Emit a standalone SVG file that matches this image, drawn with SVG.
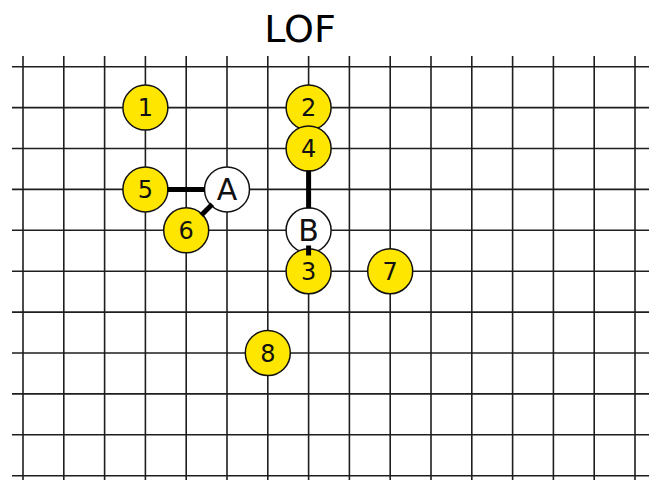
<svg xmlns="http://www.w3.org/2000/svg" width="649" height="480" viewBox="0 0 649 480">
  <style>
    .grid line { stroke: #1e1e1e; stroke-width: 1.6; }
    .edge { stroke: #000; stroke-width: 5; stroke-linecap: square; }
    .node circle { stroke: #111; stroke-width: 1.5; }
    .stone circle { fill: #ffe600; }
    .hub circle { fill: #ffffff; }
    .node text { font-family: "DejaVu Sans", sans-serif; fill: #111; text-anchor: middle; }
    .stone text { font-size: 24px; }
    .hub text { font-size: 30px; }
    .title { font-family: "DejaVu Sans", sans-serif; font-size: 38px; fill: #000; text-anchor: middle; }
  </style>

  <rect width="649" height="480" fill="#ffffff"/>

  <text class="title" x="300" y="42">LOF</text>

  <!-- board grid: 16 columns, 11 rows -->
  <g class="grid">
    <line x1="23" y1="56" x2="23" y2="480"/>
    <line x1="63.8" y1="56" x2="63.8" y2="480"/>
    <line x1="104.6" y1="56" x2="104.6" y2="480"/>
    <line x1="145.4" y1="56" x2="145.4" y2="480"/>
    <line x1="186.2" y1="56" x2="186.2" y2="480"/>
    <line x1="227" y1="56" x2="227" y2="480"/>
    <line x1="267.8" y1="56" x2="267.8" y2="480"/>
    <line x1="308.6" y1="56" x2="308.6" y2="480"/>
    <line x1="349.4" y1="56" x2="349.4" y2="480"/>
    <line x1="390.2" y1="56" x2="390.2" y2="480"/>
    <line x1="431" y1="56" x2="431" y2="480"/>
    <line x1="471.8" y1="56" x2="471.8" y2="480"/>
    <line x1="512.6" y1="56" x2="512.6" y2="480"/>
    <line x1="553.4" y1="56" x2="553.4" y2="480"/>
    <line x1="594.2" y1="56" x2="594.2" y2="480"/>
    <line x1="635" y1="56" x2="635" y2="480"/>

    <line x1="12" y1="66.7" x2="649" y2="66.7"/>
    <line x1="12" y1="107.6" x2="649" y2="107.6"/>
    <line x1="12" y1="148.5" x2="649" y2="148.5"/>
    <line x1="12" y1="189.4" x2="649" y2="189.4"/>
    <line x1="12" y1="230.3" x2="649" y2="230.3"/>
    <line x1="12" y1="271.2" x2="649" y2="271.2"/>
    <line x1="12" y1="312.1" x2="649" y2="312.1"/>
    <line x1="12" y1="353" x2="649" y2="353"/>
    <line x1="12" y1="393.9" x2="649" y2="393.9"/>
    <line x1="12" y1="434.8" x2="649" y2="434.8"/>
    <line x1="12" y1="475.7" x2="649" y2="475.7"/>
  </g>

  <g id="n1" class="node stone"><circle cx="145.4" cy="107.6" r="22.5"/><text x="145.4" y="116.3">1</text></g>
  <g id="n2" class="node stone"><circle cx="308.6" cy="107.6" r="22.5"/><text x="308.6" y="116.3">2</text></g>
  <g id="n4" class="node stone"><circle cx="308.6" cy="148.5" r="22.5"/><text x="308.6" y="157.2">4</text></g>
  <g id="n5" class="node stone"><circle cx="145.4" cy="189.4" r="22.5"/><text x="145.4" y="198.1">5</text></g>
  <g id="nA" class="node hub"><circle cx="227" cy="189.4" r="22.5"/><text x="227" y="200.3">A</text></g>
  <g id="n6" class="node stone"><circle cx="186.2" cy="230.3" r="22.5"/><text x="186.2" y="239">6</text></g>
  <g id="nB" class="node hub"><circle cx="308.6" cy="230.3" r="22.5"/><text x="308.6" y="241.2">B</text></g>
  <g id="n3" class="node stone"><circle cx="308.6" cy="271.2" r="22.5"/><text x="308.6" y="279.9">3</text></g>
  <g id="n7" class="node stone"><circle cx="390.2" cy="271.2" r="22.5"/><text x="390.2" y="279.9">7</text></g>
  <g id="n8" class="node stone"><circle cx="267.8" cy="353" r="22.5"/><text x="267.8" y="361.7">8</text></g>

  <!-- links, trimmed to the circle rims -->
  <g id="edges">
    <line class="edge" x1="170" y1="189.4" x2="202.5" y2="189.4"/>
    <line class="edge" x1="203" y1="213.5" x2="210.5" y2="206"/>
    <line class="edge" x1="308.6" y1="173" x2="308.6" y2="206"/>
    <line class="edge" x1="308.6" y1="248" x2="308.6" y2="253"/>
  </g>
</svg>
